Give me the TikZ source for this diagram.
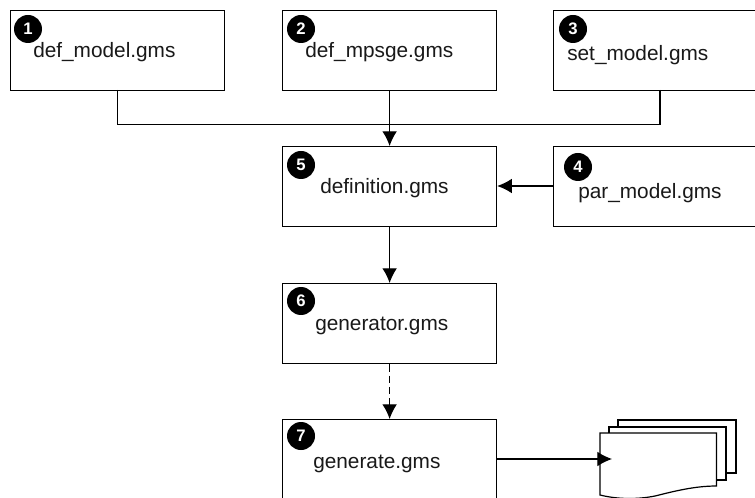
\documentclass[tikz,border=0pt]{standalone}
\usepackage{fontspec}
\setmainfont{Liberation Sans}
\usetikzlibrary{arrows.meta}
\tikzset{
  x=0.75pt,y=-0.75pt,
  filebox/.style={draw,line width=0.9pt,fill=white,minimum width=160.5pt,minimum height=60pt,inner sep=0pt,anchor=north west},
  badge/.style={circle,fill=black,text=white,inner sep=0pt,minimum size=21pt,font=\fontsize{12.5}{13}\selectfont\bfseries},
  lbl/.style={inner sep=0pt,font=\fontsize{15.6}{18}\selectfont,text=black!90},
  link/.style={draw,line width=0.9pt,-{Latex[length=11pt,width=11pt]}},
  plainlink/.style={draw,line width=0.9pt},
  sheet/.style={draw,line width=0.9pt,fill=white}
}
\begin{document}
\begin{tikzpicture}
\useasboundingbox (0,0) rectangle (755,498);
\begin{scope}
\clip (0,0) rectangle (755,498);
\node[filebox] (b1) at (10,10) {};
\node[filebox] (b2) at (282,10) {};
\node[filebox] (b3) at (553,10) {};
\node[filebox] (b4) at (553,146) {};
\node[filebox] (b5) at (282,146) {};
\node[filebox] (b6) at (282,283) {};
\node[filebox,minimum height=80pt] (b7) at (282,419) {};
\coordinate (j) at (389,124.5);
\coordinate (out) at (612,459);
\coordinate (s1) at (117.5,90);
\coordinate (s3) at (660,90);
\draw[plainlink] (s1) |- (j);
\draw[plainlink] (s3) |- (j);
\draw[link] (b2.south) -- (b5.north);
\draw[link] (b5.south) -- (b6.north);
\draw[link,dash pattern=on 5.5pt off 3pt] (b6.south) -- (b7.north);
\draw[link] (b4.west |- 0,186) -- (b5.east |- 0,186);
\draw[sheet] (618,420) rectangle (736,473);
\draw[sheet] (609,427) rectangle (726,480);
\path[sheet] (600,433) -- (716.5,433) -- (716.5,486) .. controls (695,486) and (675,491) .. (655,496) .. controls (640,499) and (620,500) .. (600,495) -- cycle;
\draw[link] (b7.east |- out) -- (out);
\end{scope}
\node[badge] (n1) at (28,29) {1};
\node[badge] (n2) at (301,29) {2};
\node[badge] (n3) at (573,29) {3};
\node[badge] (n4) at (578,167) {4};
\node[badge] (n5) at (301,165) {5};
\node[badge] (n6) at (301,301) {6};
\node[badge] (n7) at (301,436) {7};
\node[lbl,anchor=base west] (t1) at (33,58) {def\_model.gms};
\node[lbl,anchor=base west] (t2) at (305,58) {def\_mpsge.gms};
\node[lbl,anchor=base west] (t3) at (567,61) {set\_model.gms};
\node[lbl,anchor=base west] (t4) at (578,199) {par\_model.gms};
\node[lbl,anchor=base west] (t5) at (320,194) {definition.gms};
\node[lbl,anchor=base west] (t6) at (315,330) {generator.gms};
\node[lbl,anchor=base west] (t7) at (313,468) {generate.gms};
\end{tikzpicture}
\end{document}
